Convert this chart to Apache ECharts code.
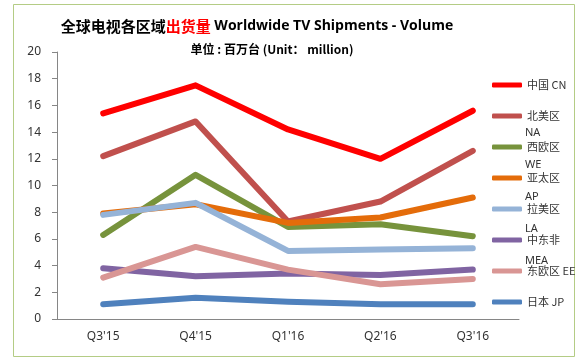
<!DOCTYPE html>
<html>
<head>
<meta charset="utf-8">
<script src="https://cdn.jsdelivr.net/npm/echarts@6/dist/echarts.min.js"></script>
<style>html,body{margin:0;padding:0;background:#fff;}#c{width:583px;height:363px;}</style>
</head>
<body>
<div id="c"></div>
<script>
var categories = ["Q3'15", "Q4'15", "Q1'16", "Q2'16", "Q3'16"];
var seriesNames = ['中国 CN', '北美区 NA', '西欧区 WE', '亚太区 AP', '拉美区 LA', '中东非 MEA', '东欧区 EE', '日本 JP'];
var legendLabels = ['中国 CN', '北美区', '西欧区', '亚太区', '拉美区', '中东非', '东欧区 EE', '日本 JP'];
var legendTopTags = ['', '', 'NA', 'WE', 'AP', 'LA', 'MEA', ''];
var seriesColors = ['#ff0000', '#c0504d', '#77933c', '#e46c0a', '#95b3d7', '#8064a2', '#d99694', '#4f81bd'];
var cnValues = [15.4, 17.5, 14.2, 12.0, 15.6];
var naValues = [12.2, 14.8, 7.3, 8.8, 12.6];
var weValues = [6.3, 10.8, 6.9, 7.1, 6.2];
var apValues = [7.9, 8.6, 7.2, 7.6, 9.1];
var laValues = [7.8, 8.7, 5.1, 5.2, 5.3];
var meaValues = [3.8, 3.2, 3.4, 3.3, 3.7];
var eeValues = [3.1, 5.4, 3.7, 2.6, 3.0];
var jpValues = [1.1, 1.6, 1.3, 1.1, 1.1];
var allValues = [cnValues, naValues, weValues, apValues, laValues, meaValues, eeValues, jpValues];

var chart = echarts.init(document.getElementById('c'), null, {renderer: 'canvas'});

var legendTop = 76, legendStep = 32, firstCenter = 83;
var graphics = [{
  type: 'rect', shape: {x: 13.5, y: 4.5, width: 561, height: 352},
  style: {fill: 'none', stroke: '#b4cc85', lineWidth: 1}, silent: true, z: -1
}];
legendTopTags.forEach(function (t, i) {
  if (!t) return;
  graphics.push({
    type: 'text', left: 525, top: firstCenter + i * legendStep - 20,
    style: {text: t, fill: '#333', font: '11px "Noto Sans", sans-serif'}
  });
});

var series = seriesNames.map(function (n, i) {
  return {
    name: n, type: 'line', data: allValues[i], symbol: 'none',
    lineStyle: {width: 6, color: seriesColors[i], cap: 'round', join: 'round'},
    itemStyle: {color: seriesColors[i]}
  };
});

chart.setOption({
  animation: false,
  backgroundColor: '#fff',
  title: [{
    left: 252, top: 14, textAlign: 'center',
    text: '{a|全球电视各区域}{b|出货量}{c| Worldwide TV Shipments - Volume}',
    textStyle: {
      rich: {
        a: {fontSize: 15, fontWeight: 'bold', color: '#000', fontFamily: '"Noto Sans CJK SC"'},
        b: {fontSize: 15, fontWeight: 'bold', color: '#ff0000', fontFamily: '"Noto Sans CJK SC"'},
        c: {fontSize: 14, fontWeight: 'bold', color: '#000', fontFamily: '"Open Sans"'}
      }
    }
  }, {
    left: 267, top: 38, textAlign: 'center',
    text: '单位 : 百万台 (Unit： million)',
    textStyle: {fontSize: 12, fontWeight: 'bold', color: '#000', fontFamily: '"Noto Sans CJK SC"'}
  }],
  legend: {
    orient: 'vertical', left: 487, top: legendTop - 3,
    itemWidth: 30, itemHeight: 5, itemGap: 17,
    icon: 'roundRect',
    data: seriesNames,
    formatter: function (name) { return legendLabels[seriesNames.indexOf(name)]; },
    textStyle: {fontSize: 11, color: '#333', fontFamily: '"Noto Sans CJK SC", "Noto Sans"', lineHeight: 14}
  },
  grid: {left: 57, right: 64, top: 52, bottom: 44},
  xAxis: {
    type: 'category', data: categories, boundaryGap: true,
    axisLine: {lineStyle: {color: '#868686', width: 1}},
    axisTick: {length: 4, lineStyle: {color: '#868686'}},
    axisLabel: {color: '#333', fontSize: 12, margin: 12, fontFamily: '"Noto Sans"'}
  },
  yAxis: {
    type: 'value', min: 0, max: 20, interval: 2,
    axisLine: {show: true, lineStyle: {color: '#868686', width: 1}},
    axisTick: {show: true, length: 5, lineStyle: {color: '#868686'}},
    splitLine: {show: false},
    axisLabel: {color: '#333', fontSize: 12, margin: 16, fontFamily: '"Noto Sans"'}
  },
  graphic: graphics,
  series: series
});
</script>
</body>
</html>
